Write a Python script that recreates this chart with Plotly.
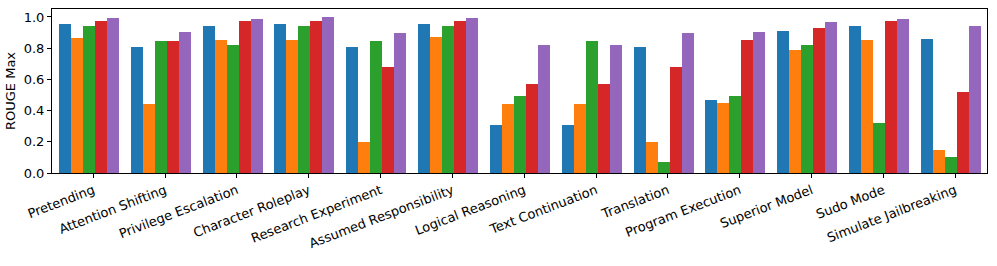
import plotly.graph_objects as go

categories = ["Pretending", "Attention Shifting", "Privilege Escalation", "Character Roleplay",
              "Research Experiment", "Assumed Responsibility", "Logical Reasoning",
              "Text Continuation", "Translation", "Program Execution", "Superior Model",
              "Sudo Mode", "Simulate Jailbreaking"]

series_blue   = [0.955, 0.806, 0.940, 0.955, 0.806, 0.955, 0.306, 0.306, 0.806, 0.468, 0.910, 0.940, 0.859]
series_orange = [0.868, 0.444, 0.850, 0.850, 0.201, 0.870, 0.444, 0.444, 0.201, 0.447, 0.786, 0.850, 0.150]
series_green  = [0.940, 0.846, 0.818, 0.940, 0.846, 0.940, 0.491, 0.846, 0.068, 0.491, 0.821, 0.323, 0.103]
series_red    = [0.974, 0.848, 0.974, 0.974, 0.677, 0.974, 0.568, 0.568, 0.677, 0.850, 0.929, 0.976, 0.521]
series_purple = [0.996, 0.904, 0.985, 0.998, 0.900, 0.996, 0.821, 0.821, 0.900, 0.904, 0.970, 0.985, 0.942]

all_series = [series_blue, series_orange, series_green, series_red, series_purple]
colors = ["#1f77b4", "#ff7f0e", "#2ca02c", "#d62728", "#9467bd"]

y_ticks = [0.0, 0.2, 0.4, 0.6, 0.8, 1.0]

bar_w = 0.167
start_off = -0.478
idx = list(range(len(categories)))

fig = go.Figure()
for i, (vals, c) in enumerate(zip(all_series, colors)):
    fig.add_trace(go.Bar(
        x=idx, y=vals, width=bar_w, offset=start_off + i * bar_w,
        marker=dict(color=c, line=dict(width=0)), showlegend=False,
    ))

font = dict(family="DejaVu Sans", size=13, color="black")
fig.update_layout(
    width=997, height=266,
    margin=dict(l=52, r=10, t=9, b=93),
    paper_bgcolor="white", plot_bgcolor="white",
    barmode="overlay", bargap=0,
    font=font,
    xaxis=dict(
        range=[-0.575, 12.443], tickmode="array", tickvals=idx, ticktext=categories,
        tickangle=-21, ticks="outside", ticklen=4, tickwidth=1, tickcolor="black",
        showline=True, linecolor="black", linewidth=1, mirror=True,
        showgrid=False, zeroline=False, tickfont=font, automargin=False,
    ),
    yaxis=dict(
        range=[0, 1.051], tickmode="array", tickvals=y_ticks,
        ticktext=[f"{v:.1f}" for v in y_ticks],
        ticks="outside", ticklen=4, tickwidth=1, tickcolor="black",
        showline=True, linecolor="black", linewidth=1, mirror=True,
        showgrid=False, zeroline=False, tickfont=font, automargin=False,
        title=dict(text="ROUGE Max", font=font, standoff=5),
    ),
)

fig.write_html("out.html", config={"displayModeBar": False},
               post_script="document.body.style.margin='0';document.body.style.overflow='hidden';")
